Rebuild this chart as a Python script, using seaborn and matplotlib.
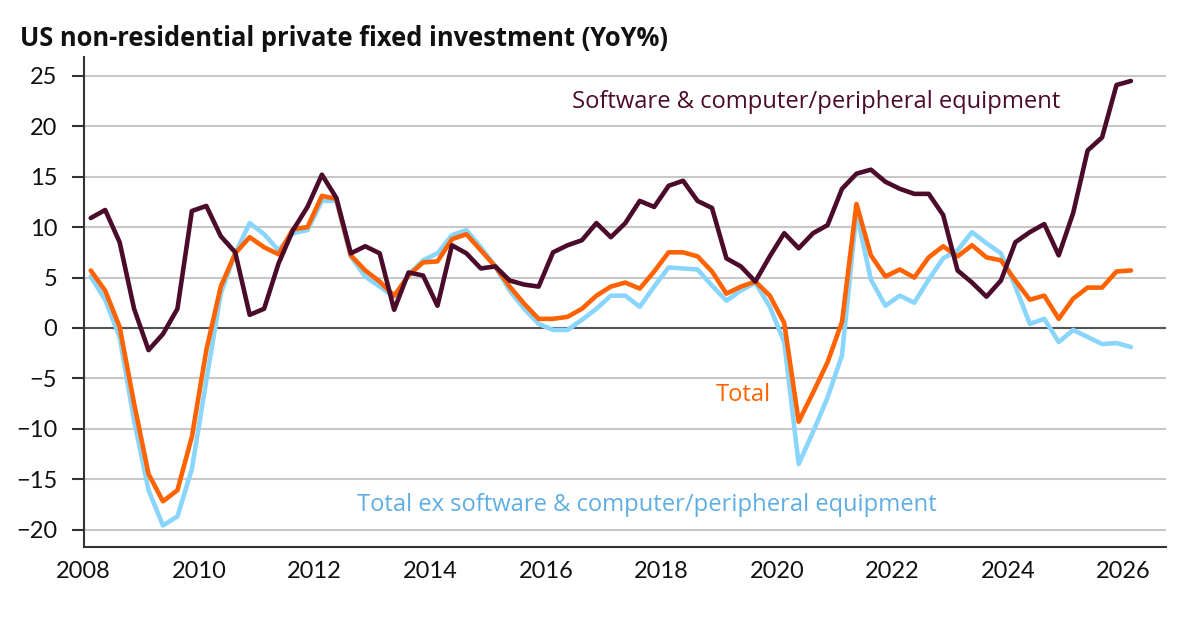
import numpy as np
import pandas as pd
import matplotlib
matplotlib.use("Agg")
import matplotlib.pyplot as plt
import seaborn as sns

# quarterly YoY %, 2008Q1 .. 2026Q1
quarters = pd.period_range("2008Q1", "2026Q1", freq="Q")

software = [10.9, 11.7, 8.5, 1.9, -2.2, -0.6, 1.9, 11.6, 12.1, 9.1, 7.5, 1.3,
            1.9, 6.4, 9.7, 12.0, 15.2, 12.9, 7.4, 8.1, 7.4, 1.8, 5.5, 5.2,
            2.2, 8.2, 7.4, 5.9, 6.1, 4.7, 4.3, 4.1, 7.5, 8.2, 8.7, 10.4,
            9.0, 10.4, 12.6, 12.0, 14.1, 14.6, 12.6, 11.9, 6.9, 6.1, 4.6, 7.1,
            9.4, 7.9, 9.4, 10.2, 13.8, 15.3, 15.7, 14.5, 13.8, 13.3, 13.3, 11.2,
            5.7, 4.5, 3.1, 4.7, 8.5, 9.5, 10.3, 7.2, 11.4, 17.6, 18.9, 24.1, 24.5]

total = [5.7, 3.7, 0.1, -7.5, -14.5, -17.2, -16.1, -10.8, -2.2, 4.1, 7.4, 9.0,
         8.0, 7.3, 9.8, 10.0, 13.1, 12.8, 7.2, 5.7, 4.6, 3.2, 5.2, 6.5,
         6.6, 8.8, 9.3, 7.7, 6.1, 4.1, 2.4, 0.9, 0.9, 1.1, 1.9, 3.2,
         4.1, 4.5, 3.9, 5.6, 7.5, 7.5, 7.1, 5.6, 3.4, 4.1, 4.6, 3.2,
         0.5, -9.3, -6.4, -3.4, 0.6, 12.3, 7.2, 5.1, 5.8, 5.0, 7.0, 8.1,
         7.1, 8.2, 7.0, 6.7, 4.7, 2.8, 3.2, 0.9, 2.9, 4.0, 4.0, 5.6, 5.7]

total_ex = [5.1, 2.8, -0.9, -9.2, -16.1, -19.6, -18.7, -14.0, -5.2, 3.4, 7.4, 10.4,
            9.3, 7.7, 9.4, 9.7, 12.6, 12.6, 7.1, 5.1, 4.1, 3.1, 5.3, 6.7,
            7.4, 9.2, 9.7, 8.0, 6.1, 3.7, 1.9, 0.4, -0.2, -0.2, 0.8, 1.9,
            3.2, 3.2, 2.1, 4.1, 6.0, 5.9, 5.8, 4.2, 2.7, 3.7, 4.5, 2.1,
            -1.4, -13.5, -10.3, -6.9, -2.7, 11.4, 4.8, 2.2, 3.2, 2.5, 4.8, 6.9,
            7.7, 9.5, 8.4, 7.4, 4.1, 0.4, 0.9, -1.4, -0.2, -0.9, -1.6, -1.5, -1.9]

series_names = ["Total ex software & computer/peripheral equipment",
                "Total",
                "Software & computer/peripheral equipment"]
colors = {series_names[0]: "#8ad5fb",
          series_names[1]: "#ff6200",
          series_names[2]: "#4b0b2b"}
label_colors = {series_names[0]: "#5eaee2",
                series_names[1]: "#ff6200",
                series_names[2]: "#4b0b2b"}

x_pos = quarters.year + (quarters.quarter - 0.5) / 4.0

df = pd.concat([
    pd.DataFrame({"date": x_pos, "yoy": total_ex, "series": series_names[0]}),
    pd.DataFrame({"date": x_pos, "yoy": total, "series": series_names[1]}),
    pd.DataFrame({"date": x_pos, "yoy": software, "series": series_names[2]}),
], ignore_index=True)

sns.set_theme(style="white")
plt.rcParams["font.family"] = ["Lato", "DejaVu Sans"]

fig = plt.figure(figsize=(12, 6.17), dpi=100)
ax = fig.add_axes([0.0696, 0.114, 0.902, 0.794])

ax.yaxis.grid(True, color="#c8c8c8", linewidth=1.5)
ax.set_axisbelow(True)

sns.lineplot(data=df, x="date", y="yoy", hue="series", palette=colors,
             hue_order=series_names, linewidth=3.3, legend=False, ax=ax,
             sort=False)

ax.axhline(0, color="#555555", linewidth=1.5, zorder=1.5)

ax.set_xlim(2008, 2026.73)
ax.set_ylim(-21.7, 26.9)
ax.set_xticks(range(2008, 2027, 2))
ax.set_yticks(range(-20, 26, 5))
ax.set_xlabel("")
ax.set_ylabel("")

for side in ["top", "right"]:
    ax.spines[side].set_visible(False)
for side in ["left", "bottom"]:
    ax.spines[side].set_color("#333333")
    ax.spines[side].set_linewidth(1.5)

ax.tick_params(axis="y", left=True, length=9, width=1.5, color="#333333",
               pad=10, labelsize=17, labelcolor="#111111")
ax.tick_params(axis="x", bottom=False, length=0, pad=10, labelsize=17,
               labelcolor="#111111")

label_font = ["Open Sans", "DejaVu Sans"]
ax.text(2016.45, 21.8, series_names[2], color=label_colors[series_names[2]],
        fontsize=17.1, family=label_font, va="baseline", ha="left")
ax.text(2018.94, -7.25, series_names[1], color=label_colors[series_names[1]],
        fontsize=17.1, family=label_font, va="baseline", ha="left")
ax.text(2012.74, -18.17, series_names[0], color=label_colors[series_names[0]],
        fontsize=17.1, family=label_font, va="baseline", ha="left")

fig.text(0.0165, 1 - 46 / 617, "US non-residential private fixed investment (YoY%)",
         fontsize=18.4, fontweight="bold", family=label_font, color="#111111",
         va="baseline", ha="left")

fig.savefig("out.png", dpi=100)
